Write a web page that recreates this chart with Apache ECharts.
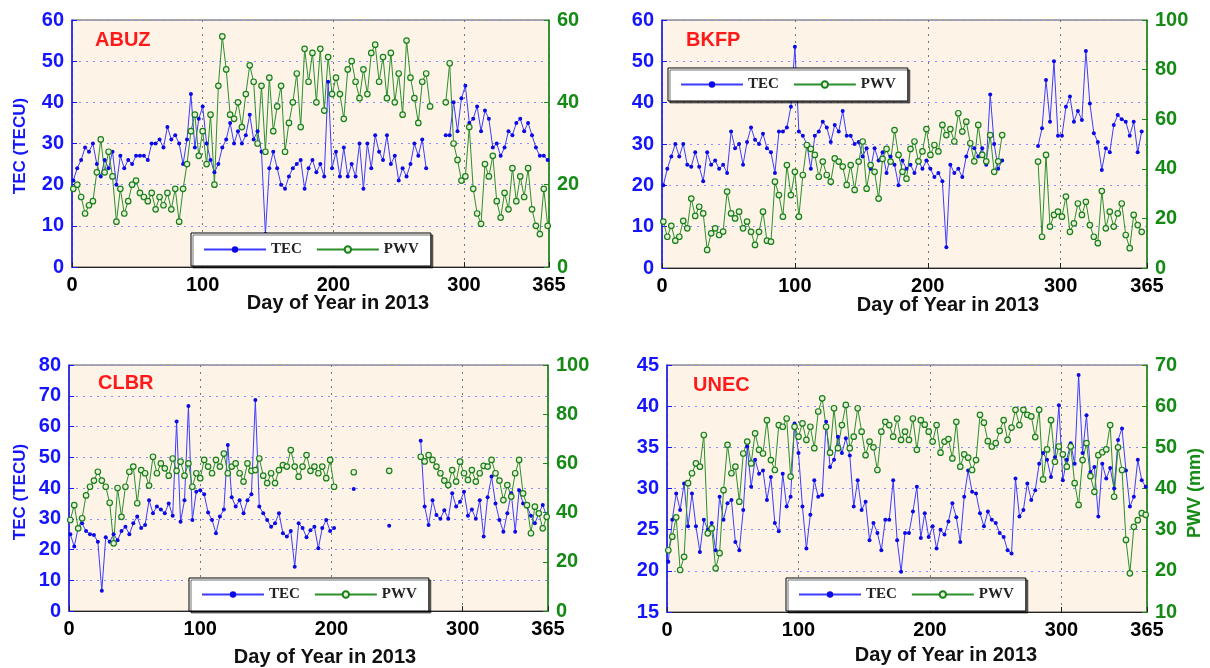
<!DOCTYPE html>
<html>
<head>
<meta charset="utf-8">
<script src="https://cdn.jsdelivr.net/npm/echarts@6.0.0/dist/echarts.min.js"></script>
<style>
  html, body { margin: 0; padding: 0; background: #fff; }
  #main { width: 1210px; height: 668px; }
</style>
</head>
<body>
<div id="main"></div>
<script>
// day of year, sampled every third day (1, 4, 7 ... 364)
var days = [];
for (var d = 1; d <= 364; d += 3) days.push(d);

var xTicks = [0, 100, 200, 300, 365];

// ABUZ
var abuzTec = [21,24,26,29,28,30,25,22,26,24, 28,20,27,24,26,25,27,27,27,26, 30,30,31,29,34,31,32,30,25,31,
  42,29,36,39,30,26,23,25,29,31, 35,30,33,30,32,37,31,33,28,8, 24,28,24,20,19,22,24,25,26,19,
  24,26,23,25,22,45,24,28,22,29, 22,25,22,30,19,30,24,32,28,26, 32,25,27,21,24,22,25,30,27,31,
  24,null,null,null,null,32,32,40,33,41, 44,35,36,39,33,38,36,29,30,27, 29,33,32,35,36,33,35,32,29,27, 27,26];
var abuzPwv = [19,20,17,13,15,16,23,31,23,28, 22,11,19,13,16,20,21,18,17,16, 18,14,17,15,18,14,19,11,19,25,
  33,37,27,33,25,37,20,44,56,48, 37,36,40,34,42,49,45,30,44,28, 46,33,39,44,28,35,40,47,34,53,
  45,52,40,53,38,51,42,46,42,36, 48,50,45,41,48,42,52,54,45,51, 41,52,40,47,37,55,46,41,35,45,
  47,39,null,null,null,40,49.5,30,26,21, 22,34,19,13,10.5,25,22,27,16,12, 18,14,24,16,22,17,24,14,10,8, 19,10];

// BKFP
var bkfpTec = [20,24,27,30,27,30,25,24.5,28,24.5, 21,28,25,26,24,25,23,33,29,30, 25,30.5,34,31,30,32.5,29,28,23,33,
  33,34,39,53.5,33,32,30,24,32,33, 35.4,34,30.5,34.6,33,38,32,32,30,30.5, 27,29,24,29,26,28,23,27,25,20,
  26,24,25,23,26,24,26,24,22,23, 21,5,25,23,24,22,27,30,29,27, 29,25,42,30,24,26,null,null,null,null,
  null,null,null,null,29.5,33.8,45.5,35.4,50,32, 32,39,41.5,35.4,38,35.8,52.5,39.8,32.6,30.5,
  23.7,29,28,34.6,37,36,35.4,32,35.4,28, 33,null];
var bkfpPwv = [18.7,12.6,17,11,12.6,19,16,28,21,24.7, 22,7.3,14,16,13.3,14.7,30.8,22,20,22.7,
  16,18.7,14.6,9.3,14.6,22.7,11,10.6,34.8,29.4, 20.7,41.5,29.4,38.8,20.7,37.5,49.6,48,45.6,36.8,
  42.9,37.5,34.8,44.2,42.9,40.9,33.5,41.5,31.5,42.9, 51,32,41.5,38.8,28,44,48,42.9,55.6,45.6,
  38.8,36,48,51,43,47,56,45.6,49.6,47, 57.7,53.6,56,51,62.4,55,59,50.3,43,57.7,
  45.6,43,53.6,38.8,43,53.6,null,null,null,null, null,null,null,null,42.9,12.6,45.6,16.7,21.4,22.7,
  20.7,28.8,14.6,18,26,21.4,26.7,17.3,12.6,10, 31,16,22.7,16.7,22,26,13.3,8,21.4,17.3, 14.6,null];

// CLBR
var clbrTec = [25,21,27,28.5,26,25,24.7,22.5,6.6,24, 22.5,25,23,26,27.4,25,28.5,30.7,27,28,
  36,31.8,34,33,31.8,35,31,61.6,29,36, 66.7,29.6,38.8,39.3,38,32,29.6,25.3,30.7,33,
  54,37,34,36,31.8,36,38,68.6,34,31.8, 29.6,27.4,28.5,31.8,25.3,24.2,26,14.4,28.5,27,
  24,26.3,27.4,20.4,27,29.6,26,27,null,null, null,null,39.7,null,null,null,null,null,null,null,
  null,27.7,null,null,null,null,null,null,null,55.4, 34,28,36,31.2,30,32.8,30,38.3,34,35.5,
  38.8,31,33,30,36,24.2,37,43.7,35,29.6, 25.8,31.8,38.3,25.8,39.3,35,34,31,28.5,31.8, 34.5,30.7];
var clbrPwv = [37,43,33.6,37.7,47,50.5,53,56.6,53,50.5, 44,27.5,50,38.3,50.5,56.6,58.7,43.8,57.3,56,
  51,62.7,56,60,58,55,62,57,60.7,55, 60,50.5,56,54,61.4,58.7,56,61.4,58.7,64,
  56,58.7,60,56,52.6,60,57,57.3,62,55, 52,56,52,57.3,59.3,58.7,65.4,58.7,54.6,58.7,
  63.4,57,58.7,56,58.7,54,61.4,50.5,null,null, null,null,56.4,null,null,null,null,null,null,null,
  null,57,null,null,null,null,null,null,null,62.7, 60.8,63.4,61.4,58.7,56,53,51.2,57.3,52.6,60.7,
  56,53.3,57.3,52.6,56,59,58.7,61.4,56,53, 45.1,51.2,46.5,56,61.4,47.8,43,31.6,42.4,39.7, 33.6,38.3];

// UNEC
var unecTec = [21.1,26.2,29.4,27.4,30.6,25.4,29.4,25.4,22.3,26.2, 25,25.8,22.5,29,26.2,28.2,28.6,23.5,22.5,27.4,
  35.1,30.2,33.5,31.8,32.2,28.6,31.4,25.8,24.8,31.8, 27.8,29,37.9,34.3,27.8,22.7,26.8,31,29,29.2,
  38.1,32.6,33.5,36.3,34.3,36.1,34,27.8,31,27.4, 28.4,23.7,25.8,24.6,22.5,26.2,26.2,31,23.7,19.9,
  24.6,24.6,27.2,30.2,24,27,24.1,25.4,22.7,25, 24.4,26,28.2,26.5,23.5,29,32.2,29.6,29.4,27,
  25.4,27.2,26.2,25.8,24.6,24.1,22.5,22.1,31.2,26.6, 27.4,30.6,28.6,29.8,33,34.3,33.5,31.4,33.8,40.1,
  31,33.5,35.5,33,43.8,34.3,38.9,32,32.6,26.6, 33,31.2,32.5,30,35.9,37.3,32.2,27.8,29,33.5, 31,30.2];
var unecPwv = [25,28.3,33,20.2,23.4,41.3,43.7,46.1,45.3,53, 29.1,30.3,20.6,24.3,39.6,50.6,43.7,45.3,36.8,48.5,
  51.4,46.1,53.4,49.4,48.5,56.6,46.9,44.5,55.4,55, 57,42.9,55,52.6,55.8,51.8,55,49.8,58.7,61.9,
  55,48.7,59.5,49.8,55.4,60.3,49.8,52.6,59.5,53.8, 48.1,51.4,50,44.5,53.8,56.2,55.4,52.6,57,51.8,
  53.8,51.8,57,49.4,56.6,55.5,53.8,51.4,55.4,48.7, 51.4,52,47.3,56.2,45.3,48.3,47.5,44.5,46.9,57.9,
  56,51.5,50.2,51,54,56.6,51.8,54.8,59.1,55.4, 59.1,57.9,57.5,52.5,59.1,42.2,49.5,56.6,46.5,50.2,
  48.3,45.3,50.2,41.3,36,46.9,51,43,39.2,48.1, 48.8,49.5,55.4,38,50,44.5,27.5,19.4,30.7,32.3, 34,33.6];

var stations = ['ABUZ', 'BKFP', 'CLBR', 'UNEC'];
var tecData = [abuzTec, bkfpTec, clbrTec, unecTec];
var pwvData = [abuzPwv, bkfpPwv, clbrPwv, unecPwv];
var tecRange = [[0, 60, 10], [0, 60, 10], [0, 80, 10], [15, 45, 5]];
var pwvRange = [[0, 60, 20], [0, 100, 20], [0, 100, 20], [10, 70, 10]];

// layout of the four panels
var grids = [
  {left: 72, top: 20, width: 477, height: 247},
  {left: 662, top: 20, width: 485, height: 248},
  {left: 69, top: 365, width: 479, height: 246},
  {left: 667, top: 365, width: 480, height: 247}
];
var legendPos = [[191, 233], [668, 68], [189, 578], [786, 578]];
var titlePos = [[95, 41], [686, 41], [98, 384], [693, 386]];
var xNamePos = [[338, 303], [948, 305], [325, 657], [946, 655]];

var BLUE = '#1414ff', GREEN = '#158a15';
var FONT = 'Liberation Sans';

function pairs(vals) {
  return days.map(function (d, i) { return [d, vals[i]]; });
}

var option = {
  animation: false,
  grid: [], xAxis: [], yAxis: [], series: [], legend: [], graphic: []
};

for (var k = 0; k < 4; k++) {
  var g = grids[k];
  option.grid.push({
    left: g.left, top: g.top, width: g.width, height: g.height,
    show: true, backgroundColor: '#fdf4e7', borderColor: '#555', borderWidth: 1
  });
  option.xAxis.push({
    gridIndex: k, type: 'value', min: 0, max: 365, interval: 100,
    axisLine: {lineStyle: {color: '#222', width: 1.2}},
    axisTick: {inside: true, length: 5, lineStyle: {color: '#222'}},
    axisLabel: {color: '#000', fontSize: 20, fontWeight: 'bold', fontFamily: FONT, margin: 8,
      formatter: function (v) { return xTicks.indexOf(v) >= 0 ? String(v) : ''; }},
    splitLine: {show: true, lineStyle: {color: '#777', type: [2, 5], width: 1}}
  });
  option.yAxis.push({
    gridIndex: k, type: 'value', position: 'left',
    min: tecRange[k][0], max: tecRange[k][1], interval: tecRange[k][2],
    axisLine: {show: true, lineStyle: {color: BLUE, width: 1.5}},
    axisTick: {show: true, inside: true, length: 5, lineStyle: {color: BLUE}},
    axisLabel: {color: BLUE, fontSize: 20, fontWeight: 'bold', fontFamily: FONT, margin: 8},
    splitLine: {show: true, lineStyle: {color: '#8c8cff', type: [2, 5], width: 1}}
  });
  option.yAxis.push({
    gridIndex: k, type: 'value', position: 'right',
    min: pwvRange[k][0], max: pwvRange[k][1], interval: pwvRange[k][2],
    axisLine: {show: true, lineStyle: {color: GREEN, width: 1.5}},
    axisTick: {show: true, inside: true, length: 5, lineStyle: {color: GREEN}},
    axisLabel: {color: GREEN, fontSize: 20, fontWeight: 'bold', fontFamily: FONT, margin: 8},
    splitLine: {show: false}
  });
  option.series.push({
    name: 'TEC', type: 'line', xAxisIndex: k, yAxisIndex: 2 * k,
    data: pairs(tecData[k]),
    symbol: 'circle', symbolSize: 4, showAllSymbol: true,
    lineStyle: {color: '#3c3cff', width: 1},
    itemStyle: {color: '#0a0ae6'}
  });
  option.series.push({
    name: 'PWV', type: 'line', xAxisIndex: k, yAxisIndex: 2 * k + 1,
    data: pairs(pwvData[k]),
    symbol: 'circle', symbolSize: 5.5, showAllSymbol: true,
    lineStyle: {color: '#2b8f2b', width: 1},
    itemStyle: {color: '#e6f0d8', borderColor: '#1a7f1a', borderWidth: 1.2}
  });
  option.legend.push({
    left: legendPos[k][0], top: legendPos[k][1], orient: 'horizontal',
    data: ['TEC', 'PWV'], selectedMode: false,
    backgroundColor: '#fff', borderColor: '#000', borderWidth: 1,
    shadowColor: 'rgba(0,0,0,0.55)', shadowOffsetX: 2, shadowOffsetY: 2,
    padding: [9, 12, 9, 12], itemWidth: 62, itemHeight: 8, itemGap: 14,
    textStyle: {fontFamily: 'Liberation Serif', fontWeight: 'bold', fontSize: 15, color: '#222'}
  });
  option.graphic.push({
    type: 'text', left: titlePos[k][0], top: titlePos[k][1] - 11,
    style: {text: stations[k], fill: '#ff1a1a', font: 'bold 20px "Liberation Sans"'}
  });
  option.graphic.push({
    type: 'text', x: xNamePos[k][0], y: xNamePos[k][1],
    style: {text: 'Day of Year in 2013', fill: '#111', font: 'bold 20px "Liberation Sans"',
      textAlign: 'center', textVerticalAlign: 'middle'}
  });
}

// rotated y axis names
option.graphic.push({
  type: 'text', x: 20, y: 146, rotation: Math.PI / 2,
  style: {text: 'TEC (TECU)', fill: BLUE, font: 'bold 17px "Liberation Sans"', textAlign: 'center', textVerticalAlign: 'middle'}
});
option.graphic.push({
  type: 'text', x: 20, y: 492, rotation: Math.PI / 2,
  style: {text: 'TEC (TECU)', fill: BLUE, font: 'bold 17px "Liberation Sans"', textAlign: 'center', textVerticalAlign: 'middle'}
});
option.graphic.push({
  type: 'text', x: 1195, y: 493, rotation: Math.PI / 2,
  style: {text: 'PWV (mm)', fill: GREEN, font: 'bold 18px "Liberation Sans"', textAlign: 'center', textVerticalAlign: 'middle'}
});

var myChart = echarts.init(document.getElementById('main'), null, {renderer: 'canvas'});
myChart.setOption(option);
</script>
</body>
</html>
